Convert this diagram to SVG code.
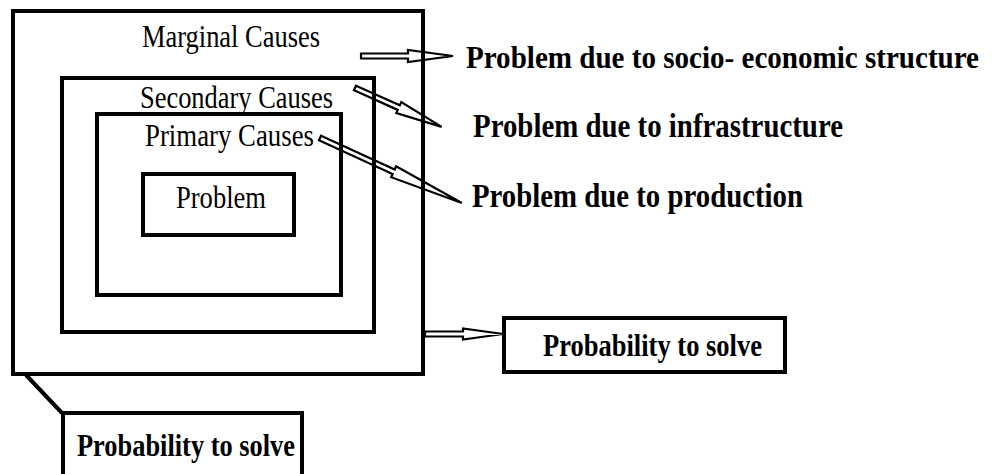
<svg xmlns="http://www.w3.org/2000/svg" width="992" height="474" viewBox="0 0 992 474">
<style>
.box{fill:none;stroke:#000;stroke-width:4}
.arr{fill:none;stroke:#000;stroke-width:2.2;stroke-linejoin:miter}
.reg{font-family:"Liberation Serif","Times New Roman",serif;font-size:31px;fill:#000}
.bld{font-family:"Liberation Serif","Times New Roman",serif;font-size:33px;font-weight:bold;fill:#000}
</style>
<rect width="992" height="474" fill="#fff"/>
<g id="marginal">
<rect class="box" x="13" y="11" width="410" height="363"/>
<text class="reg" x="142" y="47" textLength="178" lengthAdjust="spacingAndGlyphs">Marginal Causes</text>
</g>
<g id="secondary">
<rect class="box" x="62" y="78" width="312" height="254"/>
<text class="reg" x="140" y="108" textLength="193" lengthAdjust="spacingAndGlyphs">Secondary Causes</text>
</g>
<g id="primary">
<rect class="box" x="97" y="114" width="244" height="181"/>
<text class="reg" x="145" y="146" textLength="169" lengthAdjust="spacingAndGlyphs">Primary Causes</text>
</g>
<g id="problem">
<rect class="box" x="143" y="174" width="151" height="61"/>
<text class="reg" x="176" y="208" textLength="90" lengthAdjust="spacingAndGlyphs">Problem</text>
</g>
<g id="socio">
<text class="bld" transform="translate(466,68) scale(0.9,1)" x="0" y="0" textLength="570" lengthAdjust="spacingAndGlyphs" style="font-size:32px">Problem due to socio- economic structure</text>
</g>
<g id="infra">
<text class="bld" x="473" y="137" textLength="370" lengthAdjust="spacingAndGlyphs">Problem due to infrastructure</text>
</g>
<g id="production">
<text class="bld" x="472" y="207" textLength="331" lengthAdjust="spacingAndGlyphs">Problem due to production</text>
</g>
<g id="prob-right">
<rect class="box" x="504" y="318" width="281" height="54"/>
<text class="bld" x="543" y="356" textLength="219" lengthAdjust="spacingAndGlyphs" style="font-size:31px">Probability to solve</text>
</g>
<g id="prob-bottom">
<rect class="box" x="63" y="413" width="239" height="70"/>
<text class="bld" x="77" y="456" textLength="218" lengthAdjust="spacingAndGlyphs" style="font-size:31px">Probability to solve</text>
</g>
<g id="connectors">
<polygon class="arr" transform="translate(361,56)" points="0,-2.5 47,-2.5 47,-6 92,0 47,6 47,2.5 0,2.5"/>
<polygon class="arr" transform="translate(355,88) rotate(24.15)" points="0,-2.5 48,-2.5 48,-6 95,0 48,6 48,2.5 0,2.5"/>
<polygon class="arr" transform="translate(320,138) rotate(24.6)" points="0,-2.5 81,-2.5 81,-6 156,0 81,6 81,2.5 0,2.5"/>
<polygon class="arr" transform="translate(425,334)" points="0,-2.5 38,-2.5 38,-5.5 78,0 38,5.5 38,2.5 0,2.5"/>
<line x1="26" y1="375" x2="62" y2="413" stroke="#000" stroke-width="4"/>
</g>
</svg>
